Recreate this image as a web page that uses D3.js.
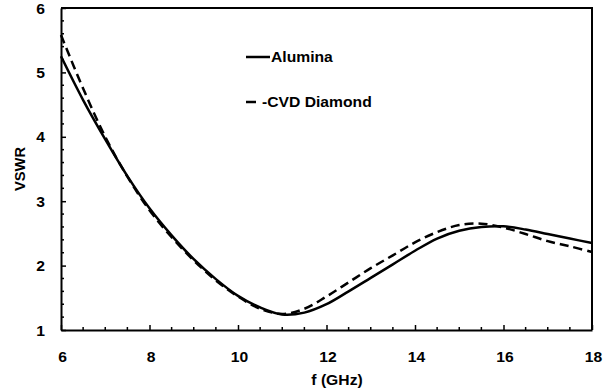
<!DOCTYPE html>
<html>
<head>
<meta charset="utf-8">
<script src="https://cdn.jsdelivr.net/npm/d3@7"></script>
<style>
  html, body { margin: 0; padding: 0; background: #fff; }
  svg { display: block; }
  text { font-family: "Liberation Sans", Arial, sans-serif; font-weight: bold; fill: #000; }
</style>
</head>
<body>
<svg id="chart" width="610" height="389"></svg>
<script>
// Frequency sweep (GHz) and VSWR for the two substrates
const freq = [6, 6.5, 7, 7.5, 8, 8.5, 9, 9.5, 10, 10.5, 11, 11.5, 12, 12.5, 13, 13.5, 14, 14.5, 15, 15.5, 16, 16.5, 17, 17.5, 18];
const alumina = [5.25, 4.57, 3.96, 3.39, 2.89, 2.47, 2.1, 1.79, 1.53, 1.35, 1.24, 1.27, 1.40, 1.60, 1.81, 2.02, 2.23, 2.42, 2.54, 2.60, 2.61, 2.56, 2.49, 2.42, 2.35];
const diamond = [5.58, 4.75, 4.0, 3.38, 2.86, 2.44, 2.08, 1.77, 1.52, 1.33, 1.25, 1.33, 1.52, 1.74, 1.96, 2.16, 2.36, 2.52, 2.63, 2.65, 2.59, 2.49, 2.38, 2.30, 2.21];
const xTicks = [6, 8, 10, 12, 14, 16, 18];
const yTicks = [1, 2, 3, 4, 5, 6];
const seriesNames = ["Alumina", "CVD Diamond"];

const svg = d3.select("#chart");
const m = { left: 61, right: 592, top: 8, bottom: 330 };

const x = d3.scaleLinear().domain([6, 18]).range([m.left, m.right]);
const y = d3.scaleLinear().domain([1, 6]).range([m.bottom, m.top]);

// frame: top and right edges
svg.append("path")
  .attr("d", `M${m.left},${m.top}H${m.right}V${m.bottom}`)
  .attr("fill", "none").attr("stroke", "#000").attr("stroke-width", 2);

// minor ticks (inward)
const xMinor = d3.range(6.5, 18, 0.5).filter(v => !xTicks.includes(v));
const yMinor = d3.range(1.2, 6, 0.2).map(v => +v.toFixed(1)).filter(v => !yTicks.includes(v));

svg.append("g").selectAll("line").data(xMinor).join("line")
  .attr("x1", d => x(d)).attr("x2", d => x(d))
  .attr("y1", m.bottom).attr("y2", m.bottom - 3)
  .attr("stroke", "#000").attr("stroke-width", 1.5);
svg.append("g").selectAll("line").data(yMinor).join("line")
  .attr("x1", m.left).attr("x2", m.left + 3)
  .attr("y1", d => y(d)).attr("y2", d => y(d))
  .attr("stroke", "#000").attr("stroke-width", 1.5);

// bottom axis
const gx = svg.append("g").attr("transform", `translate(0,${m.bottom})`)
  .call(d3.axisBottom(x).tickValues(xTicks).tickSizeInner(-5).tickSizeOuter(0).tickPadding(0).tickFormat(d3.format("d")));
gx.select(".domain").attr("stroke-width", 2);
gx.selectAll(".tick line").attr("stroke-width", 1.5);
gx.selectAll(".tick text").remove();
gx.selectAll(".tick").append("text")
  .attr("transform", "translate(1,32) scale(1.12,1)")
  .attr("text-anchor", "middle")
  .style("font-size", "14px")
  .text(d => d);

// left axis
const gy = svg.append("g").attr("transform", `translate(${m.left},0)`)
  .call(d3.axisLeft(y).tickValues(yTicks).tickSizeInner(-5).tickSizeOuter(0).tickFormat(d3.format("d")));
gy.select(".domain").attr("stroke-width", 2);
gy.selectAll(".tick line").attr("stroke-width", 1.5);
gy.selectAll(".tick text").remove();
gy.selectAll(".tick").append("text")
  .attr("transform", "translate(-16,5) scale(1.12,1)")
  .attr("text-anchor", "end")
  .style("font-size", "14px")
  .text(d => d);

// axis titles
svg.append("text")
  .attr("transform", `translate(25,${(m.top + m.bottom) / 2}) rotate(-90) scale(1.05,1)`)
  .attr("text-anchor", "middle")
  .style("font-size", "14px")
  .text("VSWR");
svg.append("text")
  .attr("transform", "translate(337,385) scale(1.12,1)")
  .attr("text-anchor", "middle")
  .style("font-size", "14px")
  .text("f (GHz)");

// curves
const line = d3.line().x(d => x(d[0])).y(d => y(d[1])).curve(d3.curveCatmullRom.alpha(0.5));
const pts = vals => freq.map((f, i) => [f, vals[i]]);

svg.append("path").datum(pts(alumina))
  .attr("d", line).attr("fill", "none")
  .attr("stroke", "#000").attr("stroke-width", 2.5);
svg.append("path").datum(pts(diamond))
  .attr("d", line).attr("fill", "none")
  .attr("stroke", "#000").attr("stroke-width", 2.5)
  .attr("stroke-dasharray", "9,5");

// legend
svg.append("line").attr("x1", 246).attr("x2", 270).attr("y1", 57).attr("y2", 57)
  .attr("stroke", "#000").attr("stroke-width", 2.5);
svg.append("text")
  .attr("transform", "translate(271,62) scale(1.12,1)")
  .style("font-size", "14px")
  .text(seriesNames[0]);
svg.append("line").attr("x1", 246).attr("x2", 256).attr("y1", 102).attr("y2", 102)
  .attr("stroke", "#000").attr("stroke-width", 2.5);
svg.append("text")
  .attr("transform", "translate(262,107) scale(1.12,1)")
  .style("font-size", "14px")
  .text("-" + seriesNames[1]);
</script>
</body>
</html>
